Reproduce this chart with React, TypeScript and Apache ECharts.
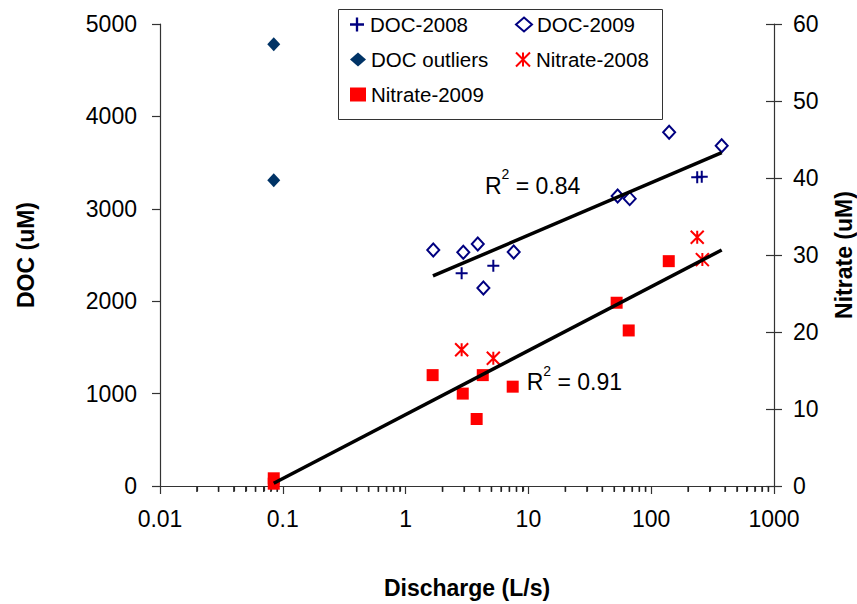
import React, { useEffect, useRef } from "react";
import * as echarts from "echarts";

// ---- data ----
const doc2008X = [2.86, 5.18, 237, 258];
const doc2008Y = [2302, 2385, 3341, 3348];

const doc2009X = [1.68, 2.95, 3.87, 4.3, 7.59, 53.3, 66.8, 140, 375];
const doc2009Y = [2554, 2529, 2619, 2143, 2532, 3139, 3110, 3828, 3683];

const outlierX = [0.0844, 0.0844];
const outlierY = [4780, 3308];

const nit2008X = [2.86, 5.18, 237, 261];
const nit2008Y = [17.7, 16.6, 32.3, 29.4];

const nit2009X = [0.0844, 0.0844, 1.66, 2.92, 3.79, 4.25, 7.45, 52.3, 65.6, 139];
const nit2009Y = [1.0, 0.3, 14.4, 12.0, 8.7, 14.4, 12.9, 23.8, 20.2, 29.2];

// trend lines (log fits), endpoints
const docTrendX = [1.67, 375];
const docTrendY = [2273, 3607];
const nitTrendX = [0.0844, 375];
const nitTrendY = [0.35, 30.65];

const r2Doc = "0.84";
const r2Nit = "0.91";

// minor ticks of the log axis: 2..9 in every decade
const xDecades = [0.01, 0.1, 1, 10, 100];
const minorMultipliers = [2, 3, 4, 5, 6, 7, 8, 9];

const FONT = '"Liberation Sans", Arial, sans-serif';
const AXIS = "#333333";
const FS = 23;

const pair = (xs: number[], ys: number[]) => xs.map((x, i) => [x, ys[i]]);

const CROSS = "path://M5,0H7V5H12V7H7V12H5V7H0V5H5Z";
const STAR = "path://M0,0L12,12M12,0L0,12M6,0L6,12";

export default function App() {
  const ref = useRef<HTMLDivElement>(null);
  useEffect(() => {
    if (!ref.current) return;
    const chart = echarts.init(ref.current, null, { renderer: "svg" });
    const minorVals: number[] = [];
    xDecades.forEach((d) =>
      minorMultipliers.forEach((m) => minorVals.push(Number((d * m).toPrecision(6))))
    );
    const minorTicks = minorVals.map((v) => [v, 0]);

    const legendText = { fontFamily: FONT, fontSize: 20.5, color: "#000" };
    const mkLegend = (name: string, left: number, top: number) => ({
      data: [name],
      left,
      top,
      padding: 0,
      itemWidth: 16,
      itemHeight: 14,
      itemGap: 0,
      textStyle: legendText,
      selectedMode: false,
    });

    const richText = (val: string, x: number, y: number) => ({
      type: "text",
      x,
      y,
      z: 10,
      style: {
        text: `{a|R}{s|2}{a| = ${val}}`,
        verticalAlign: "top",
        align: "left",
        rich: {
          a: { fontFamily: FONT, fontSize: FS, lineHeight: 30, fill: "#000", verticalAlign: "bottom" },
          s: { fontFamily: FONT, fontSize: 14, lineHeight: 14, fill: "#000", verticalAlign: "top" },
        },
      },
    });

    const titleStyle = { fontFamily: FONT, fontSize: FS, fontWeight: "bold", color: "#000" };
    const labelStyle = { fontFamily: FONT, fontSize: FS, color: "#000" };

    chart.setOption({
      animation: false,
      backgroundColor: "#fff",
      grid: { left: 160, right: 83, top: 24, bottom: 118, outerBoundsMode: "none" },
      legend: [
        mkLegend("DOC-2008", 350, 14),
        mkLegend("DOC-2009", 515, 14),
        mkLegend("DOC outliers", 350, 49),
        mkLegend("Nitrate-2008", 515, 49),
        mkLegend("Nitrate-2009", 350, 84),
      ],
      graphic: [
        {
          type: "rect",
          z: 0,
          shape: { x: 338.5, y: 9.5, width: 324, height: 110 },
          style: { fill: "#fff", stroke: AXIS, lineWidth: 1 },
        },
        richText(r2Doc, 485, 167),
        richText(r2Nit, 526.7, 363.5),
      ],
      xAxis: [
        {
          type: "log",
          logBase: 10,
          min: 0.01,
          max: 1000,
          position: "bottom",
          name: "Discharge (L/s)",
          nameLocation: "middle",
          nameGap: 90,
          nameTextStyle: titleStyle,
          axisLine: { show: true, onZero: false, lineStyle: { color: AXIS, width: 1.2 } },
          axisTick: { show: true, inside: false, length: 8, lineStyle: { color: AXIS, width: 1.2 } },
          axisLabel: {
            ...labelStyle,
            margin: 21,
            formatter: (v: number) => String(Number(v.toPrecision(6))),
          },
          splitLine: { show: false },
          minorSplitLine: { show: false },
        },
        {
          type: "log",
          logBase: 10,
          min: 0.01,
          max: 1000,
          position: "bottom",
          offset: 0,
          axisLine: { show: true, onZero: false, lineStyle: { color: AXIS, width: 1.2 } },
          axisTick: {
            show: true,
            inside: false,
            length: 5,
            customValues: minorVals,
            lineStyle: { color: AXIS, width: 1.2 },
          },
          axisLabel: { show: false },
          splitLine: { show: false },
          minorSplitLine: { show: false },
        },
      ],
      yAxis: [
        {
          type: "value",
          min: 0,
          max: 5000,
          interval: 1000,
          position: "left",
          name: "DOC (uM)",
          nameLocation: "middle",
          nameRotate: 90,
          nameGap: 123,
          nameTextStyle: titleStyle,
          axisLine: { show: true, lineStyle: { color: AXIS, width: 1.2 } },
          axisTick: { show: true, inside: false, length: 8, lineStyle: { color: AXIS, width: 1.2 } },
          axisLabel: { ...labelStyle, margin: 23, formatter: (v: number) => String(v) },
          splitLine: { show: false },
        },
        {
          type: "value",
          min: 0,
          max: 60,
          interval: 10,
          position: "right",
          name: "Nitrate (uM)",
          nameLocation: "middle",
          nameRotate: 90,
          nameGap: 58,
          nameTextStyle: titleStyle,
          axisLine: { show: true, lineStyle: { color: AXIS, width: 1.2 } },
          axisTick: { show: true, inside: false, length: 8, lineStyle: { color: AXIS, width: 1.2 } },
          axisLabel: { ...labelStyle, margin: 19, formatter: (v: number) => String(v) },
          splitLine: { show: false },
        },
        {
          type: "value",
          min: 0,
          max: 60,
          interval: 10,
          position: "right",
          axisLine: { show: false },
          axisTick: { show: true, inside: true, length: 8, lineStyle: { color: AXIS, width: 1.2 } },
          axisLabel: { show: false },
          splitLine: { show: false },
        },
      ],
      series: [
        {
          name: "minor-ticks",
          type: "scatter",
          xAxisIndex: 0,
          yAxisIndex: 0,
          clip: false,
          silent: true,
          symbol: "rect",
          symbolSize: [1.5, 5.5],
          symbolOffset: [0, 3.2],
          itemStyle: { color: "#222", opacity: 1 },
          data: minorTicks,
          z: 1,
        },
        {
          name: "DOC-2008",
          type: "scatter",
          yAxisIndex: 0,
          clip: false,
          symbol: CROSS,
          symbolSize: 12,
          symbolKeepAspect: true,
          itemStyle: { color: "#000080", opacity: 1 },
          data: pair(doc2008X, doc2008Y),
          z: 4,
        },
        {
          name: "DOC-2009",
          type: "scatter",
          yAxisIndex: 0,
          clip: false,
          symbol: "diamond",
          symbolSize: [12, 13],
          itemStyle: { color: "#fff", borderColor: "#000080", borderWidth: 2, opacity: 1 },
          data: pair(doc2009X, doc2009Y),
          z: 4,
        },
        {
          name: "DOC outliers",
          type: "scatter",
          yAxisIndex: 0,
          clip: false,
          symbol: "diamond",
          symbolSize: [13, 14],
          itemStyle: { color: "#003366", opacity: 1 },
          data: pair(outlierX, outlierY),
          z: 4,
        },
        {
          name: "Nitrate-2008",
          type: "scatter",
          yAxisIndex: 1,
          clip: false,
          symbol: STAR,
          symbolSize: 13,
          symbolKeepAspect: true,
          itemStyle: { color: "#ff0000", borderColor: "#ff0000", borderWidth: 2, opacity: 1 },
          data: pair(nit2008X, nit2008Y),
          z: 4,
        },
        {
          name: "Nitrate-2009",
          type: "scatter",
          yAxisIndex: 1,
          clip: false,
          symbol: "rect",
          symbolSize: 12,
          itemStyle: { color: "#ff0000", opacity: 1 },
          data: pair(nit2009X, nit2009Y),
          z: 4,
        },
        {
          name: "DOC trend",
          type: "line",
          yAxisIndex: 0,
          showSymbol: false,
          symbol: "none",
          silent: true,
          lineStyle: { color: "#000", width: 3.5 },
          data: pair(docTrendX, docTrendY),
          z: 6,
        },
        {
          name: "Nitrate trend",
          type: "line",
          yAxisIndex: 1,
          showSymbol: false,
          symbol: "none",
          silent: true,
          lineStyle: { color: "#000", width: 3.5 },
          data: pair(nitTrendX, nitTrendY),
          z: 6,
        },
      ],
    });
    return () => chart.dispose();
  }, []);
  return (
    <div
      ref={ref}
      style={{ position: "fixed", left: 0, top: 0, width: 857, height: 604, background: "#fff" }}
    />
  );
}
